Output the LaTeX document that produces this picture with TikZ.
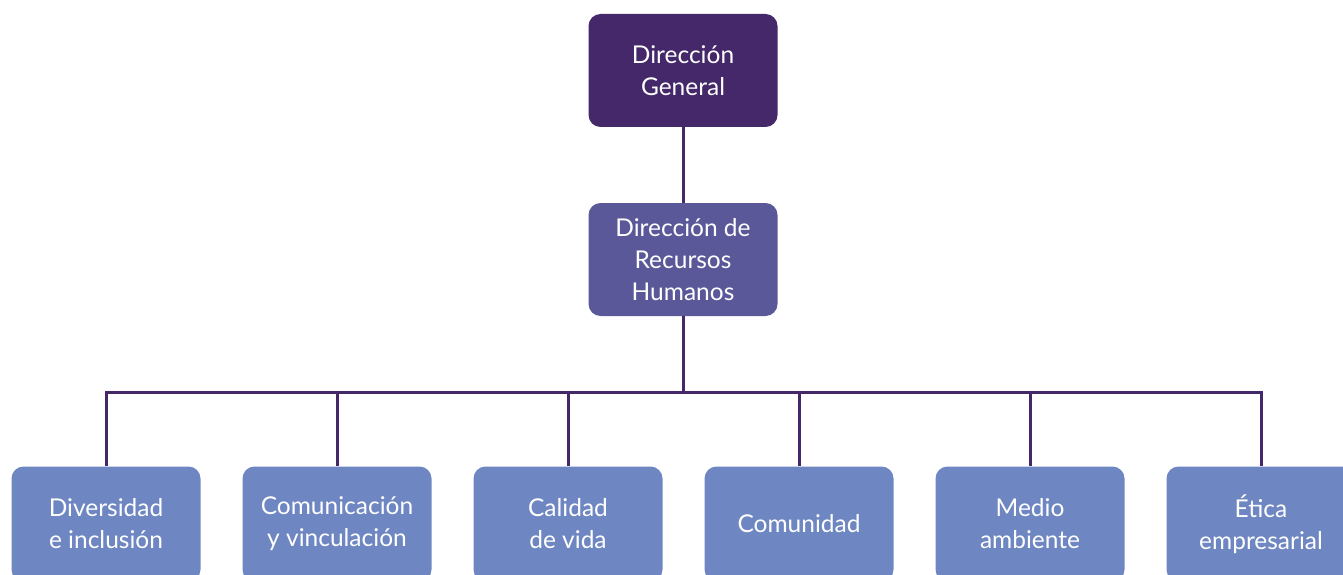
\documentclass[tikz,border=0pt]{standalone}
\usepackage{fontspec}
\setmainfont{Lato}
\definecolor{topcol}{HTML}{44286A}
\definecolor{midcol}{HTML}{5A5899}
\definecolor{lowcol}{HTML}{6E86C1}
\begin{document}
\begin{tikzpicture}[x=1pt,y=1pt,
    unit/.style={rounded corners=12pt, minimum width=189pt, minimum height=113pt,
        align=center, text=white, inner sep=0pt,
        font=\fontsize{24.5}{32}\selectfont},
    link/.style={draw=topcol, line width=3pt}]
            \useasboundingbox (0,0) rectangle (1343,574);
            \clip (0,0) rectangle (1343,574);

            % Top levels
            \node[unit, fill=topcol] (dg) at (683,503.5) {Dirección\\General};
            \node[unit, fill=midcol] (rh) at (683,314.5) {Dirección de\\Recursos\\Humanos};
            \draw[link] (dg) -- (rh);

            % Areas
            \node[unit, fill=lowcol, minimum height=115pt] (div) at (106,50) {Diversidad\\e inclusión};
            \node[unit, fill=lowcol, minimum height=115pt] (com) at (337,50) {Comunicación\\y vinculación};
            \node[unit, fill=lowcol, minimum height=115pt] (cal) at (568,50) {Calidad\\de vida};
            \node[unit, fill=lowcol, minimum height=115pt] (cmd) at (799,50) {Comunidad};
            \node[unit, fill=lowcol, minimum height=115pt] (med) at (1030,50) {Medio\\ambiente};
            \node[unit, fill=lowcol, minimum height=115pt] (eti) at (1261,50) {Ética\\empresarial};

            % Branches
            \coordinate (bus) at (683,182);
            \draw[link] (rh) -- (bus);
            \draw[link] (bus) -| (div);
            \draw[link] (bus) -| (com);
            \draw[link] (bus) -| (cal);
            \draw[link] (bus) -| (cmd);
            \draw[link] (bus) -| (med);
            \draw[link] (bus) -| (eti);
\end{tikzpicture}
\end{document}
